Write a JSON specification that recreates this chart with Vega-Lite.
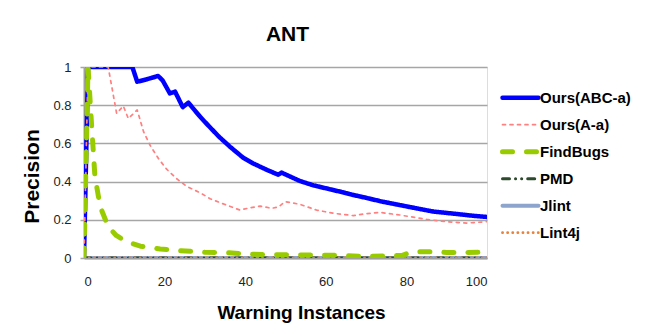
{
  "$schema": "https://vega.github.io/schema/vega-lite/v6.json",
  "width": 403,
  "height": 191,
  "autosize": {"type": "none"},
  "padding": {"left": 84, "top": 67, "right": 183, "bottom": 73},
  "background": "white",
  "title": {"text": "ANT", "font": "Liberation Sans", "fontSize": 21, "fontWeight": "bold", "color": "#000000", "offset": 16, "anchor": "middle", "dx": 2},
  "data": {"values": [
    {"s": "Jlint", "x": 0, "y": 0}, {"s": "Jlint", "x": 100, "y": 0},
    {"s": "PMD", "x": 0, "y": 0}, {"s": "PMD", "x": 100, "y": 0},
    {"s": "Lint4j", "x": 0, "y": 0}, {"s": "Lint4j", "x": 100, "y": 0},
    {"s": "Ours(ABC-a)", "x": 0, "y": 0}, {"s": "Ours(ABC-a)", "x": 1, "y": 1}, {"s": "Ours(ABC-a)", "x": 12, "y": 1},
    {"s": "Ours(ABC-a)", "x": 13.2, "y": 0.923}, {"s": "Ours(ABC-a)", "x": 15.5, "y": 0.935}, {"s": "Ours(ABC-a)", "x": 18.4, "y": 0.953},
    {"s": "Ours(ABC-a)", "x": 19.5, "y": 0.93}, {"s": "Ours(ABC-a)", "x": 21.3, "y": 0.862}, {"s": "Ours(ABC-a)", "x": 22.6, "y": 0.871},
    {"s": "Ours(ABC-a)", "x": 24.5, "y": 0.79}, {"s": "Ours(ABC-a)", "x": 25.9, "y": 0.813}, {"s": "Ours(ABC-a)", "x": 28.8, "y": 0.74},
    {"s": "Ours(ABC-a)", "x": 31, "y": 0.69}, {"s": "Ours(ABC-a)", "x": 33.5, "y": 0.635}, {"s": "Ours(ABC-a)", "x": 36.2, "y": 0.583},
    {"s": "Ours(ABC-a)", "x": 39.5, "y": 0.525}, {"s": "Ours(ABC-a)", "x": 42, "y": 0.495}, {"s": "Ours(ABC-a)", "x": 45, "y": 0.465},
    {"s": "Ours(ABC-a)", "x": 48.2, "y": 0.436}, {"s": "Ours(ABC-a)", "x": 49, "y": 0.447}, {"s": "Ours(ABC-a)", "x": 51, "y": 0.428},
    {"s": "Ours(ABC-a)", "x": 53.6, "y": 0.403}, {"s": "Ours(ABC-a)", "x": 57, "y": 0.38}, {"s": "Ours(ABC-a)", "x": 60, "y": 0.365},
    {"s": "Ours(ABC-a)", "x": 63, "y": 0.35}, {"s": "Ours(ABC-a)", "x": 66.8, "y": 0.33}, {"s": "Ours(ABC-a)", "x": 70, "y": 0.315},
    {"s": "Ours(ABC-a)", "x": 74, "y": 0.295}, {"s": "Ours(ABC-a)", "x": 78.4, "y": 0.277}, {"s": "Ours(ABC-a)", "x": 82, "y": 0.262},
    {"s": "Ours(ABC-a)", "x": 86.7, "y": 0.243}, {"s": "Ours(ABC-a)", "x": 90, "y": 0.236}, {"s": "Ours(ABC-a)", "x": 94, "y": 0.227},
    {"s": "Ours(ABC-a)", "x": 97, "y": 0.22}, {"s": "Ours(ABC-a)", "x": 100, "y": 0.215},
    {"s": "Ours(A-a)", "x": 0, "y": 0}, {"s": "Ours(A-a)", "x": 1, "y": 1}, {"s": "Ours(A-a)", "x": 6, "y": 1},
    {"s": "Ours(A-a)", "x": 8.1, "y": 0.757}, {"s": "Ours(A-a)", "x": 9.75, "y": 0.796}, {"s": "Ours(A-a)", "x": 11, "y": 0.73},
    {"s": "Ours(A-a)", "x": 13.2, "y": 0.775}, {"s": "Ours(A-a)", "x": 14.8, "y": 0.66}, {"s": "Ours(A-a)", "x": 16.4, "y": 0.59},
    {"s": "Ours(A-a)", "x": 18.5, "y": 0.52}, {"s": "Ours(A-a)", "x": 20.5, "y": 0.465}, {"s": "Ours(A-a)", "x": 23, "y": 0.415},
    {"s": "Ours(A-a)", "x": 25.5, "y": 0.375}, {"s": "Ours(A-a)", "x": 28.8, "y": 0.342}, {"s": "Ours(A-a)", "x": 31.3, "y": 0.31},
    {"s": "Ours(A-a)", "x": 35, "y": 0.28}, {"s": "Ours(A-a)", "x": 38.7, "y": 0.251}, {"s": "Ours(A-a)", "x": 41, "y": 0.262},
    {"s": "Ours(A-a)", "x": 43.7, "y": 0.272}, {"s": "Ours(A-a)", "x": 46.6, "y": 0.26}, {"s": "Ours(A-a)", "x": 48.3, "y": 0.268},
    {"s": "Ours(A-a)", "x": 49.9, "y": 0.295}, {"s": "Ours(A-a)", "x": 53.6, "y": 0.281}, {"s": "Ours(A-a)", "x": 57.7, "y": 0.251},
    {"s": "Ours(A-a)", "x": 61.9, "y": 0.234}, {"s": "Ours(A-a)", "x": 66.8, "y": 0.222}, {"s": "Ours(A-a)", "x": 69.3, "y": 0.23},
    {"s": "Ours(A-a)", "x": 73.4, "y": 0.239}, {"s": "Ours(A-a)", "x": 78.4, "y": 0.225}, {"s": "Ours(A-a)", "x": 85, "y": 0.202},
    {"s": "Ours(A-a)", "x": 90, "y": 0.19}, {"s": "Ours(A-a)", "x": 95, "y": 0.183}, {"s": "Ours(A-a)", "x": 100, "y": 0.19},
    {"s": "FindBugs", "x": 0, "y": 0}, {"s": "FindBugs", "x": 1, "y": 1}, {"s": "FindBugs", "x": 1.9, "y": 0.69},
    {"s": "FindBugs", "x": 2.7, "y": 0.43}, {"s": "FindBugs", "x": 4, "y": 0.27}, {"s": "FindBugs", "x": 6, "y": 0.164},
    {"s": "FindBugs", "x": 8, "y": 0.118}, {"s": "FindBugs", "x": 10.6, "y": 0.085}, {"s": "FindBugs", "x": 14, "y": 0.062},
    {"s": "FindBugs", "x": 18.9, "y": 0.047}, {"s": "FindBugs", "x": 24, "y": 0.038}, {"s": "FindBugs", "x": 30, "y": 0.03},
    {"s": "FindBugs", "x": 36, "y": 0.027}, {"s": "FindBugs", "x": 41, "y": 0.02}, {"s": "FindBugs", "x": 48, "y": 0.017},
    {"s": "FindBugs", "x": 56, "y": 0.016}, {"s": "FindBugs", "x": 63, "y": 0.014}, {"s": "FindBugs", "x": 69, "y": 0.008},
    {"s": "FindBugs", "x": 76, "y": 0.011}, {"s": "FindBugs", "x": 79, "y": 0.014}, {"s": "FindBugs", "x": 81.5, "y": 0.033},
    {"s": "FindBugs", "x": 86, "y": 0.033}, {"s": "FindBugs", "x": 90, "y": 0.029}, {"s": "FindBugs", "x": 95, "y": 0.029},
    {"s": "FindBugs", "x": 100, "y": 0.03}
  ]},
  "mark": {"type": "line", "strokeCap": "round", "strokeJoin": "round", "clip": true},
  "encoding": {
    "x": {"field": "x", "type": "quantitative", "scale": {"domain": [0, 100], "nice": false},
      "axis": {"values": [0, 20, 40, 60, 80, 100], "title": "Warning Instances", "grid": false, "ticks": false,
        "domainColor": "#A0A0A0", "domainWidth": 2, "labelFont": "Liberation Sans", "labelFontSize": 13, "labelColor": "#222222", "labelPadding": 17,
        "titleFont": "Liberation Sans", "titleFontSize": 19, "titleFontWeight": "bold", "titleColor": "#000000",
        "titleX": 217, "titleY": 60, "titleBaseline": "alphabetic", "titleAnchor": null, "titleAlign": "center"}},
    "y": {"field": "y", "type": "quantitative", "scale": {"domain": [0, 1], "nice": false},
      "axis": {"values": [0, 0.2, 0.4, 0.6, 0.8, 1], "format": "~g", "title": "Precision", "grid": true, "gridColor": "#A6A6A6", "gridWidth": 1.5,
        "ticks": true, "tickSize": 4, "tickColor": "#A6A6A6", "tickWidth": 1.5,
        "domainColor": "#A0A0A0", "domainWidth": 2, "labelFont": "Liberation Sans", "labelFontSize": 13, "labelColor": "#222222", "labelPadding": 9,
        "titleFont": "Liberation Sans", "titleFontSize": 21, "titleFontWeight": "bold", "titleColor": "#000000",
        "titleX": -52, "titleY": 109, "titleAngle": -90, "titleBaseline": "middle", "titleAlign": "center"}},
    "color": {"field": "s", "type": "nominal", "sort": null,
      "scale": {"domain": ["Ours(ABC-a)", "Ours(A-a)", "FindBugs", "PMD", "Jlint", "Lint4j"],
        "range": ["#0000FF", "#FF8080", "#99CC00", "#2D4A2D", "#8DA4CC", "#E8823C"]},
      "legend": {"title": null, "orient": "none", "legendX": 416, "legendY": 17.3, "symbolType": "stroke", "symbolSize": 1296,
        "labelFont": "Liberation Sans", "labelFontSize": 15, "labelFontWeight": "bold", "labelColor": "#000000", "labelOffset": -1,
        "rowPadding": 0, "clipHeight": 26.7, "symbolOffset": 0,
        "encode": {"symbols": {"update": {"strokeCap": {"value": "round"}}}}}},
    "strokeDash": {"field": "s", "type": "nominal", "sort": null,
      "scale": {"type": "ordinal", "domain": ["Ours(ABC-a)", "Ours(A-a)", "FindBugs", "PMD", "Jlint", "Lint4j"],
        "range": [[1, 0], [3, 4.5], [10, 14], [7, 6, 0.1, 6, 0.1, 6], [1, 0], [0.1, 5]]}},
    "strokeWidth": {"field": "s", "type": "nominal", "sort": null,
      "scale": {"type": "ordinal", "domain": ["Ours(ABC-a)", "Ours(A-a)", "FindBugs", "PMD", "Jlint", "Lint4j"],
        "range": [4.5, 1.7, 5, 3, 4, 2.8]}}
  }
}
